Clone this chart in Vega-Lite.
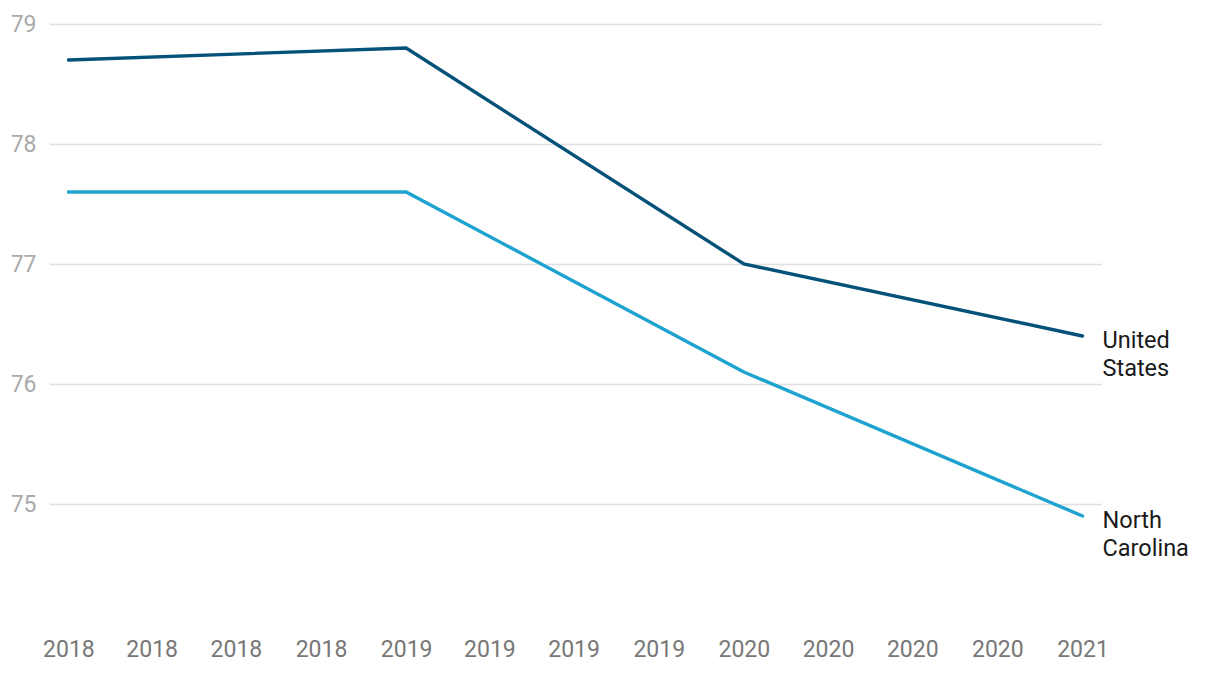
{
  "$schema": "https://vega.github.io/schema/vega-lite/v6.json",
  "autosize": {"type": "none"},
  "padding": {"left": 49, "top": 24, "right": 119, "bottom": 50},
  "width": 1052,
  "height": 600,
  "background": "white",
  "config": {
    "view": {"stroke": null},
    "font": "Roboto"
  },
  "data": {
    "values": [
      {"date": "2018-01-01", "series": "United States", "value": 78.7},
      {"date": "2019-01-01", "series": "United States", "value": 78.8},
      {"date": "2020-01-01", "series": "United States", "value": 77.0},
      {"date": "2021-01-01", "series": "United States", "value": 76.4},
      {"date": "2018-01-01", "series": "North Carolina", "value": 77.6},
      {"date": "2019-01-01", "series": "North Carolina", "value": 77.6},
      {"date": "2020-01-01", "series": "North Carolina", "value": 76.1},
      {"date": "2021-01-01", "series": "North Carolina", "value": 74.9}
    ]
  },
  "encoding": {
    "x": {
      "field": "date",
      "type": "temporal",
      "scale": {
        "type": "utc",
        "nice": false,
        "domain": [
          {"year": 2017, "month": 12, "date": 11, "utc": true},
          {"year": 2021, "month": 1, "date": 21, "utc": true}
        ]
      },
      "axis": {
        "title": null,
        "format": "%Y",
        "tickCount": {"interval": "month", "step": 3},
        "grid": false,
        "domain": false,
        "ticks": false,
        "labelFontSize": 23,
        "labelColor": "#777777",
        "labelPadding": 14,
        "labelFont": "Roboto"
      }
    },
    "y": {
      "field": "value",
      "type": "quantitative",
      "scale": {"domain": [74, 79], "nice": false, "zero": false},
      "axis": {
        "title": null,
        "values": [75, 76, 77, 78, 79],
        "domain": false,
        "ticks": false,
        "grid": true,
        "gridColor": "#e0e0e0",
        "gridWidth": 1.3,
        "labelFontSize": 23,
        "labelColor": "#aaaaaa",
        "labelPadding": 13,
        "labelFont": "Roboto"
      }
    },
    "color": {
      "field": "series",
      "type": "nominal",
      "scale": {"domain": ["United States", "North Carolina"], "range": ["#04517a", "#1ea2d0"]},
      "legend": null
    }
  },
  "layer": [
    {
      "mark": {"type": "line", "strokeWidth": 3.4, "strokeCap": "round", "strokeJoin": "miter"}
    },
    {
      "transform": [{"filter": "utcyear(datum.date) === 2021"}],
      "mark": {
        "type": "text",
        "align": "left",
        "baseline": "alphabetic",
        "dx": 20,
        "dy": 12,
        "fontSize": 23.5,
        "lineHeight": 28,
        "lineBreak": " ",
        "color": "#1a1a1a",
        "font": "Roboto"
      },
      "encoding": {
        "text": {"field": "series"},
        "color": {"value": "#1a1a1a"}
      }
    }
  ]
}
